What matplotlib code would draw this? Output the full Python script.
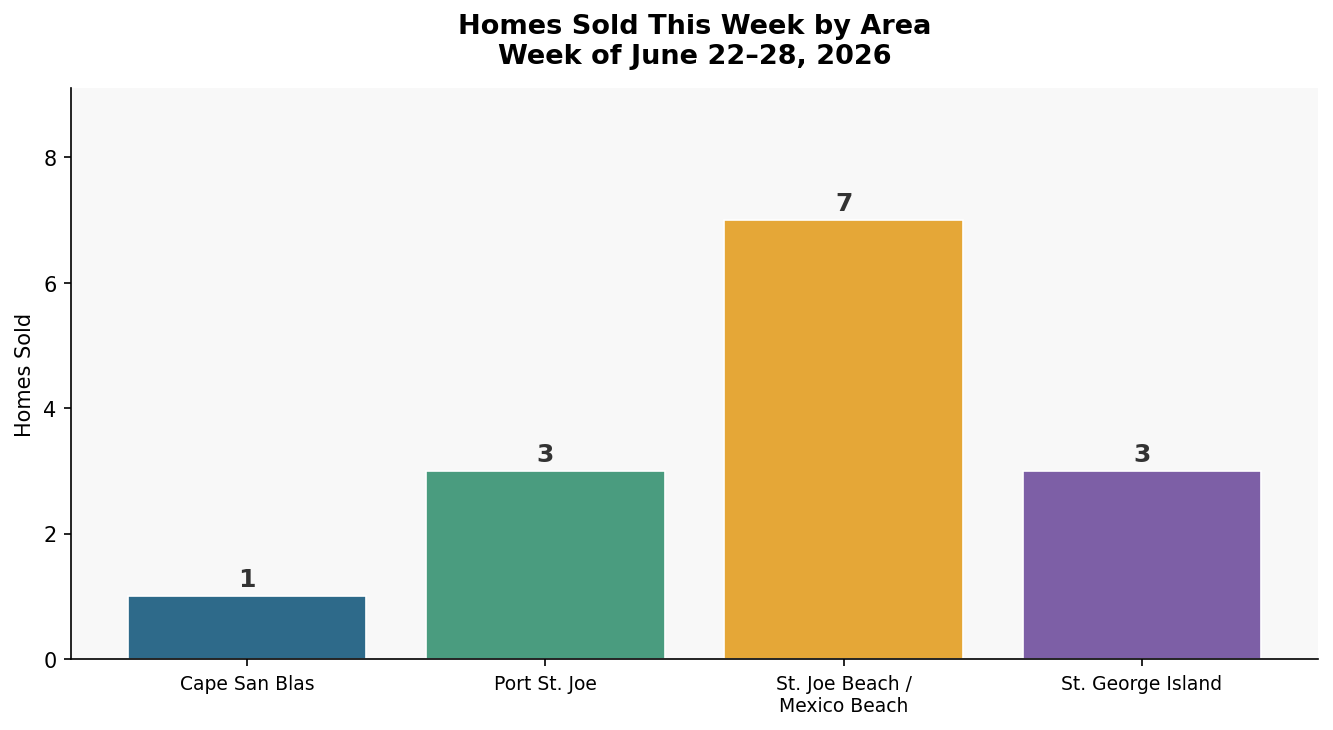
import matplotlib
matplotlib.use("Agg")
import matplotlib.pyplot as plt

areas = ["Cape San Blas", "Port St. Joe", "St. Joe Beach /\nMexico Beach", "St. George Island"]
homes_sold = [1, 3, 7, 3]
colors = ["#2E6A8A", "#4A9C7F", "#E5A737", "#7D5FA6"]

fig, ax = plt.subplots(figsize=(8.893, 4.873), dpi=150)
ax.set_facecolor("#f8f8f8")

bars = ax.bar(range(len(areas)), homes_sold, width=0.8, color=colors,
              edgecolor="white", linewidth=0.8)
for b, v in zip(bars, homes_sold):
    ax.text(b.get_x() + b.get_width() / 2, v + 0.08, str(v), ha="center", va="bottom",
            fontsize=12, fontweight="bold", color="#333333")

ax.set_xticks(range(len(areas)))
ax.set_xticklabels(areas, fontsize=9)
ax.tick_params(axis="y", labelsize=10)
ax.set_ylim(0, max(homes_sold) * 1.3)
ax.set_ylabel("Homes Sold", fontsize=10)
ax.set_title("Homes Sold This Week by Area\nWeek of June 22\u201328, 2026",
             fontsize=13, fontweight="bold", pad=12)

ax.spines["top"].set_visible(False)
ax.spines["right"].set_visible(False)

# placement de l'axe comme sur la référence
fig.subplots_adjust(left=0.0532, right=0.988, top=0.8782, bottom=0.0971)
plt.savefig("out.png", dpi=150)
